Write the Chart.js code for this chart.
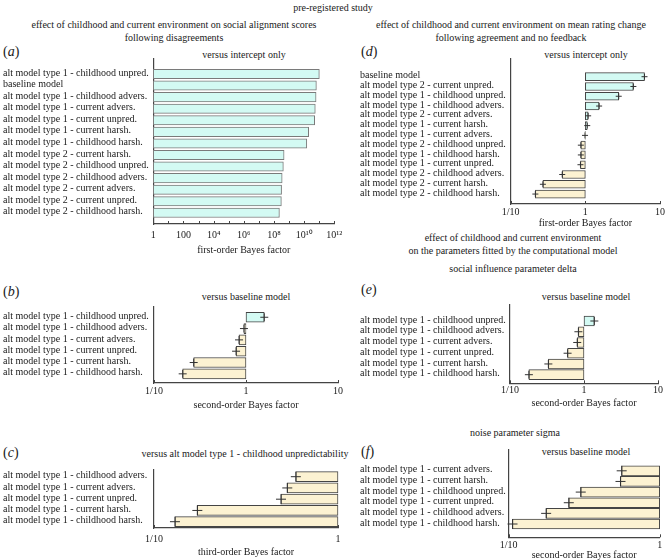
<!DOCTYPE html>
<html>
<head>
<meta charset="utf-8">
<script src="https://cdn.jsdelivr.net/npm/chart.js@4.4.0/dist/chart.umd.min.js"></script>
<style>
  body { margin: 0; background: #fff; }
  #page { position: relative; width: 667px; height: 560px; overflow: hidden; font-family: 'Liberation Serif', serif; font-size: 10px; color: #1a1a1a; }
  .t { position: absolute; white-space: nowrap; line-height: 12px; transform: translate(-50%, -50%); }
  .p { position: absolute; white-space: nowrap; line-height: 16px; font-size: 14px; transform: translate(0, -50%); }
  canvas { position: absolute; }
</style>
</head>
<body>
<div id="page">
  <div class="t" style="left:333px;top:8px">pre-registered study</div>
  <div class="t" style="left:174px;top:25px">effect of childhood and current environment on social alignment scores</div>
  <div class="t" style="left:174px;top:38px">following disagreements</div>
  <div class="t" style="left:511px;top:25px">effect of childhood and current environment on mean rating change</div>
  <div class="t" style="left:511px;top:38px">following agreement and no feedback</div>
  <div class="t" style="left:513px;top:237.5px">effect of childhood and current environment</div>
  <div class="t" style="left:513px;top:250.5px">on the parameters fitted by the computational model</div>
  <div class="t" style="left:513px;top:269px">social influence parameter delta</div>
  <div class="t" style="left:515px;top:433px">noise parameter sigma</div>
  <div class="t" style="left:244px;top:55px">versus intercept only</div>
  <div class="t" style="left:246px;top:297px">versus baseline model</div>
  <div class="t" style="left:245px;top:454px">versus alt model type 1 - childhood unpredictability</div>
  <div class="t" style="left:586px;top:55px">versus intercept only</div>
  <div class="t" style="left:586px;top:296.7px">versus baseline model</div>
  <div class="t" style="left:586px;top:451.7px">versus baseline model</div>
  <div class="p" style="left:3px;top:52px">(<i>a</i>)</div>
  <div class="p" style="left:3px;top:292px">(<i>b</i>)</div>
  <div class="p" style="left:3px;top:453px">(<i>c</i>)</div>
  <div class="p" style="left:361px;top:52px">(<i>d</i>)</div>
  <div class="p" style="left:361px;top:290px">(<i>e</i>)</div>
  <div class="p" style="left:361px;top:452px">(<i>f</i>)</div>
</div>
<script>
// data (Bayes factors)
const aLabels = ['alt model type 1 - childhood unpred.', 'baseline model', 'alt model type 1 - childhood advers.',
  'alt model type 1 - current advers.', 'alt model type 1 - current unpred.', 'alt model type 1 - current harsh.',
  'alt model type 1 - childhood harsh.', 'alt model type 2 - current harsh.', 'alt model type 2 - childhood unpred.',
  'alt model type 2 - childhood advers.', 'alt model type 2 - current advers.', 'alt model type 2 - current unpred.',
  'alt model type 2 - childhood harsh.'];
const aValues = [1.02e11, 6.5e10, 6.2e10, 5.5e10, 5.0e10, 2.0e10, 1.5e10, 4.7e8, 4.2e8, 3.5e8, 3.2e8, 3.1e8, 2.3e8];
const aTicks = [1, 10, 100, 1e3, 1e4, 1e5, 1e6, 1e7, 1e8, 1e9, 1e10, 1e11, 1e12];
const aTickLabels = ['1', '', '100', '', '10⁴', '', '10⁶', '', '10⁸', '', '10¹⁰', '', '10¹²'];

const bLabels = ['alt model type 1 - childhood unpred.', 'alt model type 1 - childhood advers.', 'alt model type 1 - current advers.',
  'alt model type 1 - current unpred.', 'alt model type 1 - current harsh.', 'alt model type 1 - childhood harsh.'];
const bValues = [1.58, 0.95, 0.84, 0.78, 0.27, 0.205];

const cLabels = ['alt model type 1 - childhood advers.', 'alt model type 1 - current advers.', 'alt model type 1 - current unpred.',
  'alt model type 1 - current harsh.', 'alt model type 1 - childhood harsh.'];
const cValues = [0.59, 0.53, 0.49, 0.172, 0.13];

const dLabels = ['baseline model', 'alt model type 2 - current unpred.', 'alt model type 1 - childhood unpred.',
  'alt model type 1 - childhood advers.', 'alt model type 2 - current advers.', 'alt model type 1 - current harsh.',
  'alt model type 1 - current advers.', 'alt model type 2 - childhood unpred.', 'alt model type 1 - childhood harsh.',
  'alt model type 1 - current unpred.', 'alt model type 2 - childhood advers.', 'alt model type 2 - current harsh.',
  'alt model type 2 - childhood harsh.'];
const dValues = [6.2, 4.4, 2.8, 1.53, 1.09, 1.06, 0.99, 0.87, 0.87, 0.86, 0.49, 0.27, 0.214];

const eLabels = ['alt model type 1 - childhood unpred.', 'alt model type 1 - childhood advers.', 'alt model type 1 - current advers.',
  'alt model type 1 - current unpred.', 'alt model type 1 - current harsh.', 'alt model type 1 - childhood harsh.'];
const eValues = [1.38, 0.84, 0.81, 0.60, 0.33, 0.18];

const fLabels = ['alt model type 1 - current advers.', 'alt model type 1 - current harsh.', 'alt model type 1 - childhood unpred.',
  'alt model type 1 - current unpred.', 'alt model type 1 - childhood advers.', 'alt model type 1 - childhood harsh.'];
const fValues = [0.56, 0.55, 0.30, 0.25, 0.177, 0.106];

const wideTicks = [0.1, 1, 10];
const wideTickLabels = ['1/10', '1', '10'];
const narrowTicks = [0.1, 1];
const narrowTickLabels = ['1/10', '1'];

const CYAN = '#d3faf3';
const BEIGE = '#fcf2d2';
const AXIS = '#444';
const INK = '#1a1a1a';

Chart.defaults.font.family = "'Liberation Serif', serif";
Chart.defaults.font.size = 10;
Chart.defaults.color = INK;

// small tick marks pointing up into the plot
const inwardTicks = {
    id: 'inwardTicks',
    afterDatasetsDraw(chart) {
        const s = chart.scales.x;
        const ctx = chart.ctx;
        const y0 = chart.chartArea.bottom;
        ctx.save();
        ctx.strokeStyle = AXIS;
        ctx.lineWidth = 1;
        s.ticks.forEach(t => {
            const x = Math.round(s.getPixelForValue(t.value)) + 0.5;
            ctx.beginPath();
            ctx.moveTo(x, y0);
            ctx.lineTo(x, y0 - 3);
            ctx.stroke();
        });
        ctx.restore();
    }
};

function panel(p) {
    const top = p.plotTop - 10;
    const canvas = document.createElement('canvas');
    canvas.width = p.right - p.left;
    canvas.height = p.bottom - top;
    canvas.style.left = p.left + 'px';
    canvas.style.top = top + 'px';
    document.getElementById('page').appendChild(canvas);

    // row i sits at firstRow + i * rowStep (page px)
    const yMin = -(p.firstRow - p.plotTop) / p.rowStep;
    const yMax = yMin + (p.plotBottom - p.plotTop) / p.rowStep;

    const datasets = [{
        type: 'bar',
        data: p.values.map((v, i) => ({ x: v, y: i })),
        base: 1,
        backgroundColor: p.values.map(v => v >= 1 ? CYAN : BEIGE),
        borderColor: p.edge,
        borderWidth: 1,
        borderSkipped: false,
        barThickness: p.barSize,
        clip: false,
        xAxisID: 'x',
        yAxisID: 'y',
        order: 2
    }];
    if (p.mark) {
        datasets.push({
            type: 'line',
            data: p.values.map((v, i) => ({ x: v, y: i })),
            showLine: false,
            pointStyle: 'cross',
            pointRadius: p.mark,
            pointBorderColor: '#333',
            pointBorderWidth: 1,
            clip: false,
            xAxisID: 'x',
            yAxisID: 'y',
            order: 1
        });
    }

    new Chart(canvas, {
        type: 'bar',
        data: { datasets },
        options: {
            responsive: false,
            animation: false,
            indexAxis: 'y',
            events: [],
            layout: { padding: { left: p.labelX - p.left, right: p.right - p.plotRight, top: 10, bottom: 0 } },
            plugins: { legend: { display: false }, tooltip: { enabled: false } },
            scales: {
                x: {
                    type: 'logarithmic',
                    position: 'bottom',
                    min: p.xMin,
                    max: p.xMax,
                    afterBuildTicks: s => { s.ticks = p.ticks.map(v => ({ value: v })); },
                    afterFit: s => { s.height = p.bottom - p.plotBottom; },
                    grid: { display: false, drawTicks: false },
                    border: { display: true, color: AXIS, width: 1.2 },
                    ticks: {
                        autoSkip: false, maxRotation: 0, color: INK,
                        padding: p.tickY - p.plotBottom - 6,
                        callback: (v, i) => p.tickLabels[i]
                    },
                    title: { display: true, text: p.xTitle, color: INK, padding: { top: 0, bottom: 0 } }
                },
                y: {
                    type: 'linear',
                    reverse: true,
                    offset: false,
                    min: yMin,
                    max: yMax,
                    afterBuildTicks: s => { s.ticks = p.labels.map((_, i) => ({ value: i })); },
                    afterFit: s => { s.width = p.axisX - p.labelX; },
                    grid: { display: false, drawTicks: false },
                    border: { display: true, color: AXIS, width: 1.2 },
                    ticks: {
                        autoSkip: false, crossAlign: 'far', color: INK, labelOffset: -1,
                        callback: (v, i) => p.labels[i]
                    }
                }
            }
        },
        plugins: [inwardTicks]
    });
}

panel({ labels: aLabels, values: aValues, ticks: aTicks, tickLabels: aTickLabels, xMin: 1, xMax: 1e12,
    xTitle: 'first-order Bayes factor',
    left: 0, right: 348, bottom: 256, labelX: 3, axisX: 153.3, plotRight: 334.3,
    plotTop: 59, plotBottom: 224, tickY: 235,
    firstRow: 74, rowStep: 11.57, barSize: 9.4, edge: '#7a7a7a', mark: 0 });

panel({ labels: bLabels, values: bValues, ticks: wideTicks, tickLabels: wideTickLabels, xMin: 0.1, xMax: 10,
    xTitle: 'second-order Bayes factor',
    left: 0, right: 348, bottom: 411, labelX: 3, axisX: 154, plotRight: 338,
    plotTop: 306.7, plotBottom: 383, tickY: 391,
    firstRow: 317, rowStep: 11.36, barSize: 10, edge: '#444', mark: 4 });

panel({ labels: cLabels, values: cValues, ticks: narrowTicks, tickLabels: narrowTickLabels, xMin: 0.1, xMax: 1,
    xTitle: 'third-order Bayes factor',
    left: 0, right: 348, bottom: 558, labelX: 3, axisX: 154, plotRight: 338,
    plotTop: 470, plotBottom: 528, tickY: 539,
    firstRow: 476.7, rowStep: 11.25, barSize: 10, edge: '#444', mark: 5 });

panel({ labels: dLabels, values: dValues, ticks: wideTicks, tickLabels: wideTickLabels, xMin: 0.1, xMax: 10,
    xTitle: 'first-order Bayes factor',
    left: 355, right: 667, bottom: 229, labelX: 360, axisX: 510.7, plotRight: 661,
    plotTop: 59, plotBottom: 204, tickY: 212,
    firstRow: 76.7, rowStep: 9.78, barSize: 8, edge: '#444', mark: 3 });

panel({ labels: eLabels, values: eValues, ticks: wideTicks, tickLabels: wideTickLabels, xMin: 0.1, xMax: 10,
    xTitle: 'second-order Bayes factor',
    left: 355, right: 667, bottom: 409, labelX: 360, axisX: 510, plotRight: 658,
    plotTop: 305, plotBottom: 383.3, tickY: 390,
    firstRow: 321, rowStep: 10.74, barSize: 10, edge: '#444', mark: 4 });

panel({ labels: fLabels, values: fValues, ticks: narrowTicks, tickLabels: narrowTickLabels, xMin: 0.1, xMax: 1,
    xTitle: 'second-order Bayes factor',
    left: 355, right: 667, bottom: 561, labelX: 360, axisX: 508.7, plotRight: 659.7,
    plotTop: 450, plotBottom: 537.3, tickY: 545,
    firstRow: 470.8, rowStep: 10.64, barSize: 10, edge: '#444', mark: 5 });
</script>
</body>
</html>
